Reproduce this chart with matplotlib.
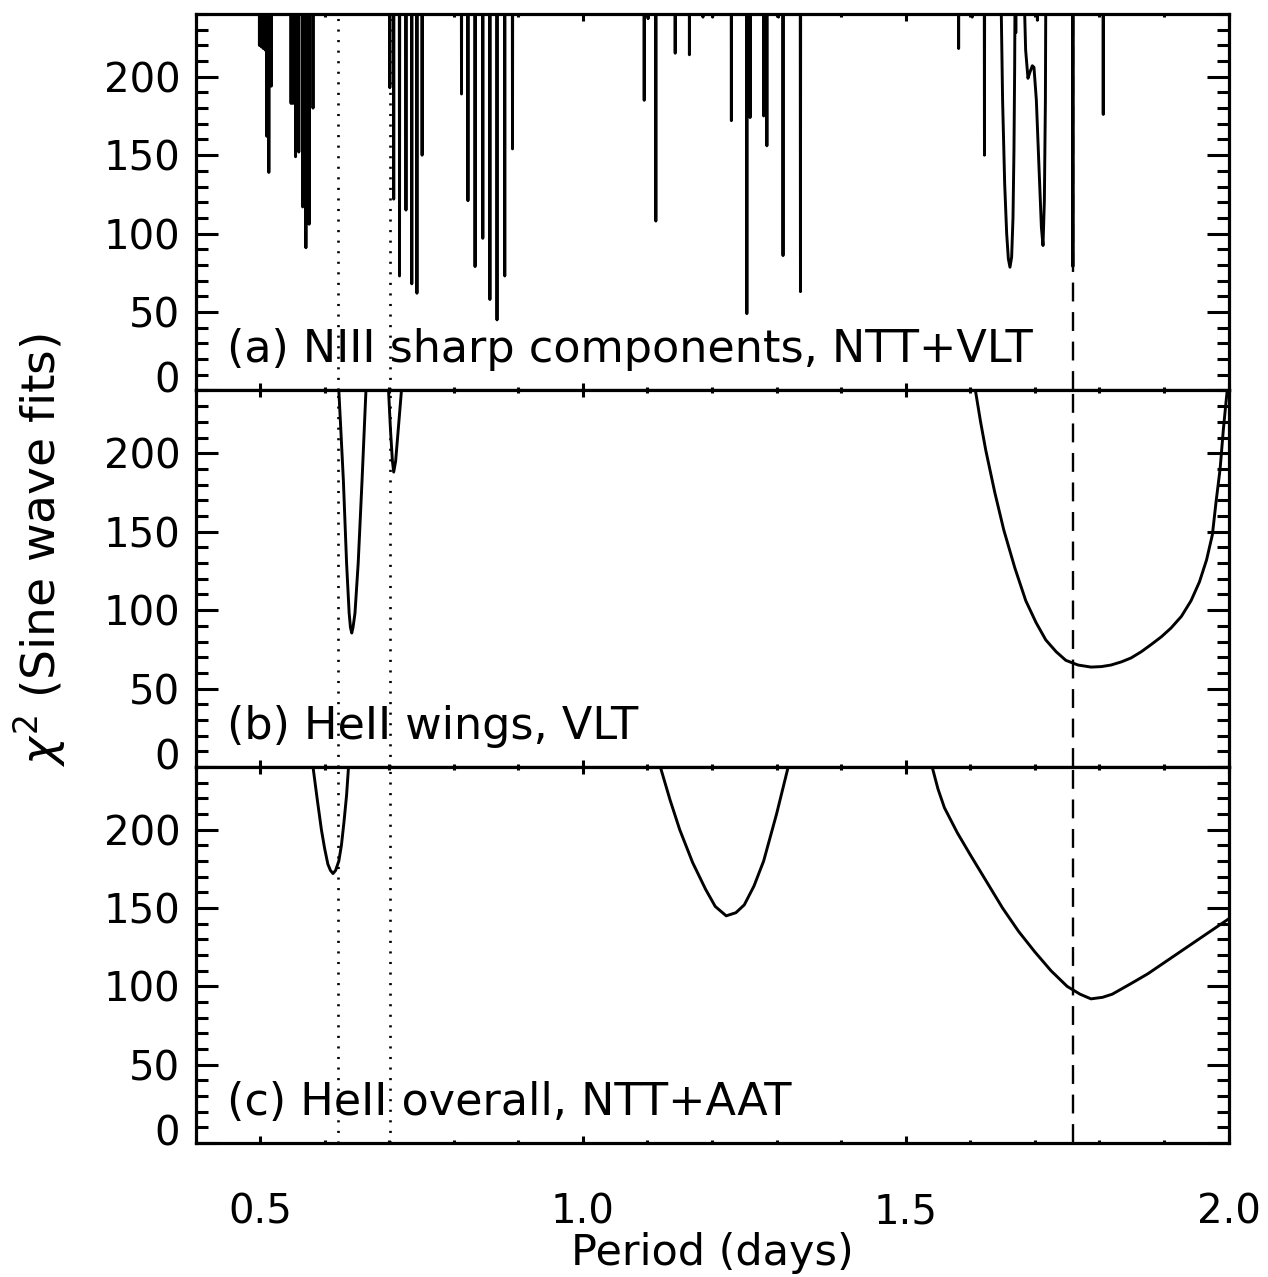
import numpy as np
import matplotlib
matplotlib.use("Agg")
import matplotlib.pyplot as plt
from matplotlib.ticker import MultipleLocator, FixedLocator, FormatStrFormatter
from matplotlib.transforms import ScaledTranslation

# ---------------- data ----------------
# Panel (a): narrow chi^2 minima (period in days, minimum chi^2)
a_spike_period = [0.499, 0.502, 0.505, 0.508, 0.5105, 0.5136, 0.5174,
                  0.548, 0.551, 0.555, 0.560, 0.566, 0.571, 0.576, 0.582,
                  0.701, 0.707, 0.716, 0.726, 0.735, 0.743, 0.751,
                  0.812, 0.822, 0.833, 0.845, 0.856, 0.867, 0.879, 0.891,
                  1.095, 1.101, 1.113, 1.143, 1.165, 1.186, 1.201,
                  1.230, 1.254, 1.259, 1.280, 1.285, 1.303, 1.310, 1.337,
                  1.582, 1.603, 1.622, 1.6705, 1.704, 1.759, 1.806]
a_spike_min = [220, 219, 218, 217, 162, 139, 194,
               183, 183, 149, 152, 117, 91, 106, 180,
               193, 122, 73, 115, 68, 62, 150,
               189, 121, 79, 97, 58, 45, 73, 154,
               185, 237, 108, 215, 214, 238, 238,
               172, 49, 174, 175, 156, 238, 86, 63,
               218, 238, 150, 228, 236, 79, 176]
# Panel (a): broader minima
a_dip1_period = [1.6481, 1.6501, 1.6533, 1.6564, 1.6590, 1.6615, 1.6641, 1.6662, 1.6677, 1.6688, 1.6692]
a_dip1_chi2 = [240, 185, 132, 100, 84, 78.6, 85, 110, 153, 206, 240]
a_dip2_period = [1.6843, 1.6858, 1.6894, 1.6925, 1.6962, 1.6987, 1.7024, 1.7065, 1.7102, 1.7127, 1.7148, 1.7164, 1.7169]
a_dip2_chi2 = [240, 217, 199, 203, 207, 206, 185, 142, 104, 92.4, 121, 185, 240]

# Panel (b): HeII wings, VLT
b_c1_period = [0.622, 0.629, 0.634, 0.638, 0.640, 0.642, 0.644, 0.647, 0.652, 0.658, 0.664]
b_c1_chi2 = [240, 183, 130, 98, 89, 85.4, 89, 98, 130, 183, 240]
b_c2_period = [0.699, 0.702, 0.705, 0.707, 0.710, 0.714, 0.719]
b_c2_chi2 = [240, 215, 195, 188, 195, 215, 240]
b_c3_period = [1.608, 1.616, 1.624, 1.638, 1.652, 1.669, 1.686, 1.702, 1.717, 1.733, 1.748,
               1.767, 1.787, 1.803, 1.818, 1.834, 1.849, 1.865, 1.880, 1.896, 1.911,
               1.927, 1.942, 1.955, 1.966, 1.975, 1.981, 1.987, 1.992, 1.996, 1.998]
b_c3_chi2 = [240, 220, 202, 175, 151, 127, 106, 92, 81, 73.5, 68,
             65, 63.7, 64, 65, 67, 69.5, 73.5, 78, 83, 88.6,
             96, 106, 118, 132, 148, 170, 190, 215, 232, 240]

# Panel (c): HeII overall, NTT+AAT
c_c1_period = [0.582, 0.589, 0.595, 0.600, 0.605, 0.609, 0.613, 0.617, 0.622, 0.626, 0.630, 0.634, 0.637]
c_c1_chi2 = [240, 218, 200, 188, 178, 174, 172, 174, 180, 190, 205, 222, 240]
c_c2_period = [1.120, 1.135, 1.150, 1.170, 1.190, 1.205, 1.222, 1.237, 1.250, 1.265, 1.280, 1.300, 1.318]
c_c2_chi2 = [240, 219, 200, 179, 162, 151, 145, 147, 152, 164, 180, 210, 240]
c_c3_period = [1.541, 1.550, 1.560, 1.580, 1.600, 1.625, 1.650, 1.675, 1.700, 1.725, 1.750, 1.770,
               1.787, 1.805, 1.820, 1.850, 1.875, 1.900, 1.925, 1.950, 1.975, 2.000]
c_c3_chi2 = [240, 226, 214, 198, 184, 167, 150, 135, 122, 110, 100, 95,
             92, 93, 95, 102, 108, 115, 122, 129, 136, 143]

# Marked periods
dotted_periods = [0.620, 0.701]
dashed_periods = [1.759]

panel_labels = ["(a) NIII sharp components, NTT+VLT",
                "(b) HeII wings, VLT",
                "(c) HeII overall, NTT+AAT"]

# ---------------- figure ----------------
plt.rcParams['font.family'] = ['DejaVu Sans']
plt.rcParams['mathtext.fontset'] = 'dejavusans'
FS_TICK = 29
FS_TEXT = 32
LW = 2.1

W, H = 1268, 1277
fig = plt.figure(figsize=(W / 100, H / 100), dpi=100)
left, right = 195.5 / W, 1228.5 / W
edges = [14, 390.5, 767, 1143]
axes = []
for i in range(3):
    t, b = edges[i], edges[i + 1]
    ax = fig.add_axes([left, 1 - b / H, right - left, (b - t) / H])
    axes.append(ax)

CLIP = 300.0
hw = 0.0004
sx, sy = [], []
for p, m in zip(a_spike_period, a_spike_min):
    sx += [p - hw, p, p + hw]
    sy += [CLIP, m, CLIP]

axa, axb, axc = axes
axa.plot(sx, sy, color='k', lw=LW)
axa.plot(a_dip1_period, a_dip1_chi2, color='k', lw=LW)
axa.plot(a_dip2_period, a_dip2_chi2, color='k', lw=LW)

axb.plot(b_c1_period, b_c1_chi2, color='k', lw=LW)
axb.plot(b_c2_period, b_c2_chi2, color='k', lw=LW)
axb.plot(b_c3_period, b_c3_chi2, color='k', lw=LW)

axc.plot(c_c1_period, c_c1_chi2, color='k', lw=LW)
axc.plot(c_c2_period, c_c2_chi2, color='k', lw=LW)
axc.plot(c_c3_period, c_c3_chi2, color='k', lw=LW)

for ax, lab in zip(axes, panel_labels):
    for p in dotted_periods:
        ax.axvline(p, color='k', lw=1.9, linestyle=(0, (0.8, 3.2)))
    for p in dashed_periods:
        ax.axvline(p, color='k', lw=1.7, linestyle=(0, (8, 4.5)))
    ax.set_xlim(0.4, 2.0)
    ax.set_ylim(0, 240)
    ax.yaxis.set_major_locator(FixedLocator([0, 50, 100, 150, 200]))
    ax.yaxis.set_minor_locator(MultipleLocator(10))
    ax.xaxis.set_major_locator(MultipleLocator(0.5))
    ax.xaxis.set_minor_locator(MultipleLocator(0.1))
    ax.tick_params(axis='both', which='both', direction='in', top=True, right=True,
                   labelsize=FS_TICK, width=2.2)
    ax.tick_params(axis='y', which='major', length=16, pad=11)
    ax.tick_params(axis='y', which='minor', length=8.5)
    ax.tick_params(axis='x', which='major', length=5, pad=36)
    ax.tick_params(axis='x', which='minor', length=2.5)
    for s in ax.spines.values():
        s.set_linewidth(2.3)
    ax.text(0.0305, 0.075, lab, transform=ax.transAxes, fontsize=FS_TEXT,
            ha='left', va='baseline')
    if ax is not axc:
        ax.tick_params(axis='x', labelbottom=False)
    ax.set_yticklabels(['0', '50', '100', '150', '200'])

axc.xaxis.set_major_formatter(FormatStrFormatter('%.1f'))

# IDL-style: the "0" label sits a bit above the bottom tick
for ax in axes:
    lbl = ax.yaxis.get_major_ticks()[0].label1
    lbl.set_transform(lbl.get_transform() + ScaledTranslation(0, 0.13, fig.dpi_scale_trans))

fig.text(712 / W, 1 - 1253 / H, 'Period (days)', ha='center', va='center',
         fontsize=31)
fig.text(40 / W, 1 - 550 / H, r'$\chi^2$ (Sine wave fits)', rotation=90,
         ha='center', va='center', fontsize=34)

fig.savefig('out.png', dpi=100)
